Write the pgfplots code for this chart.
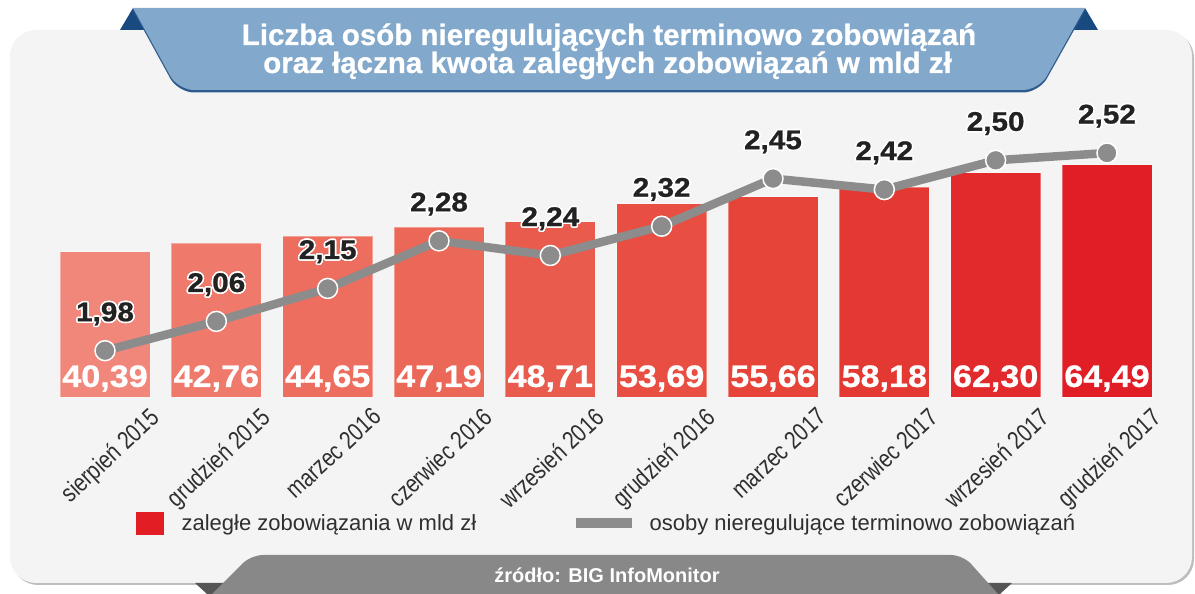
\documentclass[border=0pt]{standalone}
\usepackage{fontspec}
\setmainfont{Liberation Sans}
\newfontfamily\titlefont[FakeBold=0.8]{Liberation Sans}
\newfontfamily\numfont[FakeStretch=1.1,FakeBold=0.8]{Liberation Sans}
\newfontfamily\tickfont[FakeStretch=0.82]{Liberation Sans}
\usepackage{pgfplots}
\pgfplotsset{compat=1.18}
\usepackage{pgfplotstable}
\usepackage{contour}
\contourlength{1.6pt}
\contournumber{16}

\definecolor{bg}{HTML}{F4F4F4}
\definecolor{bgshadow}{HTML}{BDBDBD}
\definecolor{banner}{HTML}{82A8CB}
\definecolor{bannerdark}{HTML}{184A80}
\definecolor{bannerline}{HTML}{2D5B8E}
\definecolor{srcgray}{HTML}{888888}
\definecolor{srcdark}{HTML}{555555}
\definecolor{linegray}{HTML}{8C8C8C}
\definecolor{txt}{HTML}{2F2F2F}
\definecolor{lbl}{HTML}{222222}
\definecolor{legred}{HTML}{E31D24}
\definecolor{c0}{HTML}{F1867A}
\definecolor{c1}{HTML}{EF7A6C}
\definecolor{c2}{HTML}{ED6E5F}
\definecolor{c3}{HTML}{EB6757}
\definecolor{c4}{HTML}{E95C4D}
\definecolor{c5}{HTML}{E84F42}
\definecolor{c6}{HTML}{E64439}
\definecolor{c7}{HTML}{E43932}
\definecolor{c8}{HTML}{E22A2C}
\definecolor{c9}{HTML}{E11D25}

\pgfplotstableread{
x bar people
0 40.39 1.98
1 42.76 2.06
2 44.65 2.15
3 47.19 2.28
4 48.71 2.24
5 53.69 2.32
6 55.66 2.45
7 58.18 2.42
8 62.30 2.50
9 64.49 2.52
}\datatable

\pgfplotsset{
  commonbox/.style={
    scale only axis, width=1113.3pt, height=296pt,
    xmin=-0.5, xmax=9.5, clip=false,
    /pgf/number format/use comma, /pgf/number format/fixed,
    /pgf/number format/fixed zerofill, /pgf/number format/precision=2,
    /pgf/number format/assume math mode=true,
  },
  onebar/.style={ybar, bar width=90pt, bar shift=0pt, fill=#1, draw=white, draw opacity=0.35, line width=0.8pt, forget plot},
}

\begin{document}
\begin{tikzpicture}
\useasboundingbox (-49.35pt,-197pt) rectangle ++(1195pt,594pt);
\begin{scope}[x=1pt,y=1pt,shift={(-49.35pt,-197pt)}]
% background panel
\fill[bgshadow, rounded corners=26] (12,9) rectangle (1194,562);
\fill[bg, rounded corners=26] (10,11) rectangle (1192,564);
% title banner
\fill[bannerdark] (120,564) -- (133,586) -- (146,564) -- cycle;
\fill[bannerdark] (1072,564) -- (1085,586) -- (1098,564) -- cycle;
\fill[bannerline] (133,583.5) -- (1085,583.5) [rounded corners=16] -- (1039,501.5) -- (178,501.5) [sharp corners] -- cycle;
\fill[banner] (133,586) -- (1085,586) [rounded corners=16] -- (1039,504) -- (178,504) [sharp corners] -- cycle;
\node[anchor=base, text=white, inner sep=0pt, font=\titlefont\bfseries\fontsize{29.5}{30}\selectfont] at (609,549) {Liczba osób nieregulujących terminowo zobowiązań};
\node[anchor=base, text=white, inner sep=0pt, font=\titlefont\bfseries\fontsize{29.5}{30}\selectfont] at (607.5,521) {oraz łączna kwota zaległych zobowiązań w mld zł};
% source banner
\fill[srcdark] (195,11) -- (240,11) -- (213,0) -- (207,0) -- cycle;
\fill[srcdark] (975,11) -- (1012,11) -- (1000,0) -- (992,0) -- cycle;
\fill[srcgray] (212,0) [rounded corners=12] -- (251,39) -- (963,39) [sharp corners] -- (998,0) -- cycle;
\node[anchor=base, text=white, inner sep=0pt, font=\bfseries\fontsize{20}{22}\selectfont] at (607,11) {źródło: BIG InfoMonitor};
\end{scope}

% bars
\begin{axis}[commonbox,
  ymin=0, ymax=82.2,
  axis line style={draw=none}, major tick length=0pt,
  ytick=\empty,
  xtick={0,...,9},
  xticklabels={sierpień 2015, grudzień 2015, marzec 2016, czerwiec 2016, wrzesień 2016, grudzień 2016, marzec 2017, czerwiec 2017, wrzesień 2017, grudzień 2017},
  xticklabel style={xshift=43pt, yshift=-9pt, rotate=43, anchor=north east, inner sep=0pt, text=txt, font=\tickfont\fontsize{25}{28}\selectfont},
  legend columns=2,
  legend style={at={(axis description cs:0.0778,-0.4257)}, anchor=west, draw=none, fill=none, inner sep=0pt,
    nodes={inner sep=0pt, text=txt, font=\fontsize{22}{24}\selectfont},
    /tikz/every odd column/.append style={column sep=18pt},
    /tikz/every even column/.append style={column sep=100pt}},
]
\addplot[onebar=c0] coordinates {(0,40.39)};
\addplot[onebar=c1] coordinates {(1,42.76)};
\addplot[onebar=c2] coordinates {(2,44.65)};
\addplot[onebar=c3] coordinates {(3,47.19)};
\addplot[onebar=c4] coordinates {(4,48.71)};
\addplot[onebar=c5] coordinates {(5,53.69)};
\addplot[onebar=c6] coordinates {(6,55.66)};
\addplot[onebar=c7] coordinates {(7,58.18)};
\addplot[onebar=c8] coordinates {(8,62.30)};
\addplot[onebar=c9] coordinates {(9,64.49)};
% bar value labels at the base of each bar
\addplot[draw=none, mark=none, forget plot,
  point meta=\thisrow{bar},
  nodes near coords,
  every node near coord/.append style={anchor=center, yshift=18.5pt, inner sep=0pt, text=white, font=\numfont\bfseries\fontsize{31}{32}\selectfont}]
  table[x=x, y expr=0] {\datatable};
\addlegendimage{legend image code/.code={\fill[legred] (0pt,-11pt) rectangle (27pt,11pt);}}
\addlegendentry{zaległe zobowiązania w mld zł}
\addlegendimage{legend image code/.code={\fill[linegray] (0pt,-4.5pt) rectangle (55pt,4.5pt);}}
\addlegendentry{osoby nieregulujące terminowo zobowiązań}
\end{axis}

% line
\begin{axis}[commonbox, ymin=1.8535, ymax=2.662, hide axis]
\addplot[linegray, line width=8.5pt, line join=round,
  mark=*, mark size=10pt, mark options={fill=linegray, draw=white, line width=1.5pt},
  point meta=y,
  nodes near coords={\contour{white}{\pgfmathprintnumber{\pgfplotspointmeta}}},
  every node near coord/.append style={anchor=center, yshift=36pt, inner sep=0pt, text=lbl, font=\numfont\bfseries\fontsize{27}{28}\selectfont}]
  table[x=x, y=people] {\datatable};
\end{axis}
\end{tikzpicture}
\end{document}
